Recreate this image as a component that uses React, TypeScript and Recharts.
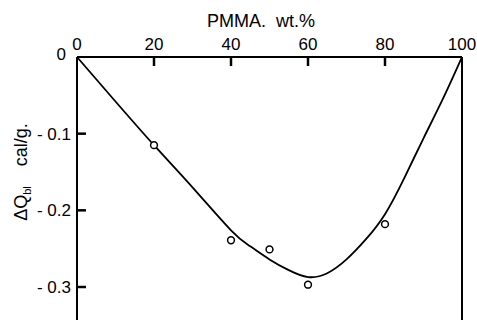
import React from 'react';
import { ComposedChart, Line, Scatter, XAxis, YAxis } from 'recharts';

// PMMA content (wt.%) and heat of mixing
const xTicks = [0, 20, 40, 60, 80, 100];
const yTicks = [0, -0.1, -0.2, -0.3];

const curveX = [0, 10, 20, 30, 40, 45, 50, 55, 60, 65, 70, 75, 80, 85, 90, 95, 100];
const curveY = [0, -0.058, -0.115, -0.17, -0.226, -0.247, -0.264, -0.278, -0.287, -0.282, -0.264, -0.238, -0.205, -0.158, -0.106, -0.055, 0];

const pointX = [20, 40, 50, 60, 80];
const pointY = [-0.115, -0.239, -0.251, -0.297, -0.218];

const curve = curveX.map((x, i) => ({ x, y: curveY[i] }));
const points = pointX.map((x, i) => ({ x, y: pointY[i] }));

const FONT = '"Liberation Sans", Arial, sans-serif';

const OpenCircle = (props: any) => (
  <circle cx={props.cx} cy={props.cy} r={3.4} fill="#fff" stroke="#000" strokeWidth={1.5} />
);

// top axis: number above, tick mark pointing down into the plot
const TopTick = (props: any) => {
  const { x, payload } = props;
  const v = payload.value;
  const len = v > 0 && v < 100 ? 10 : 0;
  return (
    <g>
      <path d={`M${x},56L${x},${56 + len}`} stroke="#000" strokeWidth={2.5} />
      <text x={x} y={50} textAnchor="middle" fontSize={17} fontFamily={FONT} fill="#000">
        {v}
      </text>
    </g>
  );
};

const LeftTick = (props: any) => {
  const { y, payload } = props;
  const v = payload.value;
  const len = v === 0 ? 0 : 10;
  return (
    <g>
      <path d={`M76,${y}L${76 + len},${y}`} stroke="#000" strokeWidth={2.5} />
      <text x={v === 0 ? 66 : 71} y={v === 0 ? y + 3 : y + 6} textAnchor="end" fontSize={17} fontFamily={FONT} fill="#000">
        {v === 0 ? '0' : '-\u00a0' + Math.abs(v).toFixed(1)}
      </text>
    </g>
  );
};

const RightTick = (props: any) => {
  const { y, payload } = props;
  const len = payload.value === 0 ? 0 : 10;
  return (
    <g>
      <path d={`M463,${y}L${463 - len},${y}`} stroke="#000" strokeWidth={2.5} />
    </g>
  );
};

export default function App() {
  return (
    <div style={{ position: 'absolute', left: 0, top: 0, width: 477, height: 320, overflow: 'hidden', background: '#fff' }}>
      <ComposedChart width={477} height={333} margin={{ top: 0, right: 0, bottom: 0, left: 0 }}>
        <XAxis
          type="number"
          dataKey="x"
          orientation="top"
          domain={[0, 100]}
          ticks={xTicks}
          height={57}
          stroke="#000"
          strokeWidth={2}
          tickLine={false}
          tick={TopTick}
        />
        <YAxis
          yAxisId="left"
          type="number"
          dataKey="y"
          domain={[-0.36, 0]}
          ticks={yTicks}
          width={77}
          stroke="#000"
          strokeWidth={2}
          tickLine={false}
          tick={LeftTick}
        />
        <YAxis
          yAxisId="right"
          orientation="right"
          type="number"
          domain={[-0.36, 0]}
          ticks={yTicks}
          width={15}
          stroke="#000"
          strokeWidth={2}
          tickLine={false}
          tick={RightTick}
        />
        <Line
          yAxisId="left"
          data={curve}
          dataKey="y"
          type="natural"
          stroke="#000"
          strokeWidth={1.8}
          dot={false}
          isAnimationActive={false}
        />
        <Scatter yAxisId="left" data={points} dataKey="y" shape={OpenCircle} isAnimationActive={false} />
      </ComposedChart>
      {/* axis titles */}
      <svg width={477} height={320} style={{ position: 'absolute', left: 0, top: 0, pointerEvents: 'none' }}>
        <text x={261} y={27} textAnchor="middle" fontSize={18} fontFamily={FONT} fill="#000">
          {'PMMA.\u00a0\u00a0wt.%'}
        </text>
        <text x={27} y={172} transform="rotate(-90, 27, 172)" textAnchor="middle" fontSize={18} fontFamily={FONT} fill="#000">
          ΔQ<tspan fontSize={11} dy={4}>bl</tspan>
          <tspan dy={-4}>{'\u00a0\u00a0\u00a0\u00a0cal/g.'}</tspan>
        </text>
      </svg>
    </div>
  );
}
